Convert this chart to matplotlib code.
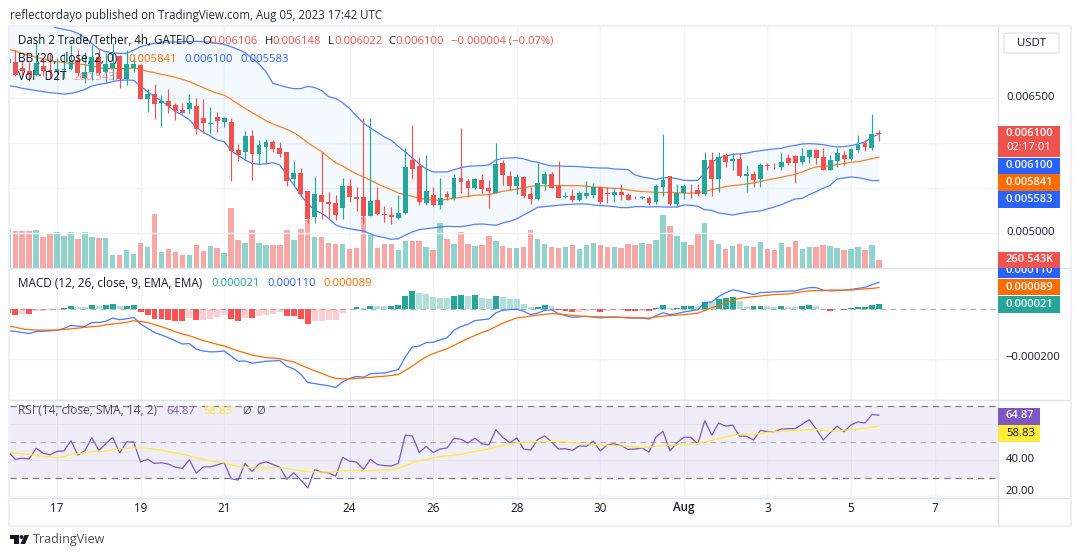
import numpy as np
import matplotlib
matplotlib.use('Agg')
import matplotlib.pyplot as plt
from matplotlib.patches import Rectangle, FancyBboxPatch, Polygon, Circle
from matplotlib.transforms import Affine2D

plt.rcParams['font.family'] = ['Open Sans', 'DejaVu Sans']

# candles, in units of 1e-6 USDT (first one is cut off by the left edge)
opens = [6890,
         6904,6830,6800,6756,6856,6811,6789,6811,6822,6922, 6719,6793,6959,6793,6830,6967,6711,6833,6867,6493,
         6541,6448,6463,6422,6367,6381,6411,6278,6215,6289, 6237,6233,5922,5904,6078,5881,5959,6011,5944,5900,
         5604,5667,5467,5174,5422,5344,5333,5281,5522,5400,
         5400,5193,5370,5215,5200,5170,5226,5815,5748,5337, 5422,5315,5437,5389,5611,5581,5504,5593,5504,5448,
         5778,5637,5526,5626,5437,5378,5548,5659,5522,5396, 5415,5367,5415,5426,5511,5444,5426,5459,5422,5393,
         5385,5393,5348,5515,5630,5326,5444,5526,5481,5433,
         5815,5604,5870,5804,5826,5637,5659,5604,5759,5748, 5737,5837,5852,5793,5848,5926,5848,5704,5804,5870,
         5826,5926,6004,5948,6106]
highs = [6960,
         7033,6922,6904,7107,6941,7015,6941,6996,7089,7033, 7015,7089,7052,6996,7107,6978,7033,6941,6874,6596,
         6652,6533,6600,6448,6448,6541,6496,6489,6396,6341, 6293,6274,5989,6133,6144,6033,6044,6033,6015,5900,
         5800,5726,5467,5618,5900,5452,5422,5611,5600,5515,
         6278,6278,5511,5304,5289,5426,5944,6204,5844,5870, 5511,5611,5467,5659,6167,5600,5611,5659,5593,6000,
         5815,5693,5656,5637,5511,5778,5693,5681,5804,5456, 5489,5463,5578,5556,5515,5507,5500,5548,5444,5407,
         5415,5407,5544,6104,5637,5548,5541,5548,5548,5904,
         5904,5904,5889,5889,5889,5759,5693,5778,5781,5781, 5889,5881,5870,5948,5937,5937,5948,5870,5948,5915,
         5948,6093,6037,6326,6148]
lows = [6850,
        6744,6756,6693,6744,6744,6719,6700,6719,6811,6744, 6663,6700,6756,6663,6700,6615,6644,6793,6493,6348,
        6270,6193,6330,6256,6330,6337,6100,6115,6107,6119, 6181,5578,5800,5818,5589,5767,5767,5904,5848,5522,
        5533,5415,5115,5115,5152,5163,5144,5156,5341,5244,
        5104,5185,5204,5118,5104,5159,5207,5604,5307,5307, 5296,5270,5363,5370,5444,5396,5493,5444,5274,5444,
        5537,5481,5437,5389,5326,5363,5481,5500,5393,5393, 5341,5359,5389,5389,5326,5333,5341,5370,5370,5378,
        5378,5315,5319,5407,5307,5289,5381,5385,5407,5426,
        5407,5452,5737,5704,5626,5452,5507,5515,5704,5715, 5704,5759,5559,5759,5781,5770,5704,5704,5737,5759,
        5815,5904,5915,5926,6022]
closes = [6930,
          6756,6804,6756,6885,6800,6789,6819,6819,6922,6781, 6793,6952,6774,6874,6885,6711,6874,6878,6493,6541,
          6437,6467,6411,6359,6333,6441,6152,6222,6222,6248, 6278,5915,5867,6078,5874,5978,6011,5937,5881,5578,
          5667,5433,5152,5433,5348,5326,5200,5522,5400,5378,
          5193,5359,5215,5196,5181,5226,5733,5707,5341,5467, 5315,5393,5404,5615,5570,5504,5604,5493,5470,5770,
          5641,5526,5622,5415,5381,5556,5659,5504,5393,5415, 5370,5448,5448,5515,5348,5430,5459,5426,5370,5385,
          5400,5337,5526,5593,5326,5444,5526,5522,5437,5815,
          5604,5848,5793,5826,5633,5659,5593,5759,5741,5741, 5793,5781,5781,5859,5926,5837,5704,5815,5893,5826,
          5937,5981,5959,6104,6100]

# volume, thousands
volume = [1217,
          1165,1165,1165,1196,978,1102,1134,1009,1134,915, 1134,978,946,946,416,416,572,447,790,666,
          1695,510,603,510,416,416,728,541,697,634, 478,1882,884,790,1196,790,728,728,728,1196,
          884,1227,1508,978,978,790,759,759,603,634,
          1602,1040,634,759,759,572,853,853,853,666, 572,1414,915,759,1134,759,697,728,1009,853,
          697,634,634,666,1196,915,759,666,634,666, 728,603,728,790,728,666,666,634,759,728,
          790,759,884,1664,1321,1009,822,728,1071,1414,
          884,759,603,697,759,697,666,822,603,572, 790,666,853,603,666,666,728,697,634,572,
          603,666,572,728,260.5]

# Bollinger bands, 1e-6
bb_upper = [7375,
            7367,7359,7352,7337,7322,7304,7278,7263,7248,7219, 7170,7107,7044,7015,7004,6996,6996,7033,7070,7093,
            7107,7119,7122,7122,7126,7126,7130,7126,7119,7107, 7096,7070,7041,7004,6941,6878,6793,6663,6641,6619,
            6604,6604,6630,6615,6582,6515,6496,6448,6385,6300,
            6223,6167,6119,6067,6030,5963,5900,5834,5771,5711, 5678,5678,5678,5704,5726,5741,5745,5748,5756,5811,
            5830,5834,5837,5823,5800,5786,5763,5745,5745,5741, 5741,5737,5730,5726,5722,5722,5711,5708,5704,5645,
            5623,5611,5593,5615,5615,5604,5586,5582,5586,5667,
            5786,5834,5852,5874,5878,5886,5904,5915,5926,5934, 5941,5963,5974,5989,5993,5989,5982,5967,5956,5960,
            5971,5989,6011,6067,6100]
bb_basis = [7041,
            7022,6996,6974,6952,6933,6915,6904,6893,6885,6878, 6870,6856,6837,6826,6826,6830,6830,6833,6822,6796,
            6782,6763,6748,6730,6707,6682,6648,6615,6582,6552, 6533,6485,6433,6385,6337,6293,6248,6211,6181,6152,
            6115,6063,6004,5952,5904,5841,5781,5744,5700,5655,
            5623,5586,5548,5511,5482,5445,5423,5408,5385,5371, 5367,5363,5374,5385,5397,5408,5419,5423,5426,5445,
            5463,5474,5489,5500,5519,5523,5526,5526,5526,5526, 5526,5526,5519,5511,5508,5500,5497,5493,5478,5467,
            5460,5456,5452,5448,5452,5448,5445,5441,5448,5463,
            5482,5497,5515,5526,5534,5545,5556,5574,5589,5604, 5619,5637,5652,5678,5711,5734,5741,5748,5760,5771,
            5786,5793,5808,5826,5841]
bb_lower = [6637,
            6626,6607,6596,6582,6570,6559,6552,6544,6552,6570, 6596,6633,6652,6663,6682,6696,6700,6696,6633,6570,
            6515,6467,6411,6348,6311,6256,6174,6119,6078,6033, 6015,5915,5863,5811,5774,5763,5770,5781,5755,5644,
            5533,5422,5322,5255,5218,5163,5089,5063,5048,5033,
            5023,4989,4963,4948,4930,4937,4974,5011,5037,5048, 5056,5067,5074,5071,5071,5082,5097,5100,5093,5085,
            5111,5130,5156,5200,5241,5285,5293,5300,5308,5315, 5319,5323,5323,5311,5304,5300,5293,5282,5282,5293,
            5293,5289,5293,5289,5289,5289,5311,5308,5297,5259,
            5252,5222,5211,5200,5215,5230,5237,5245,5267,5289, 5315,5348,5378,5385,5426,5460,5497,5530,5600,5611,
            5623,5615,5600,5582,5583]

# MACD, 1e-6
macd_hist = [-16,
             -24,-18,-18,-8,-6,-4,-1,4,14,10, 10,18,14,20,22,14,15,18,-11,-22,
             -37,-37,-41,-45,-46,-35,-44,-43,-38,-32, -24,-38,-45,-35,-36,-27,-21,-17,-11,-28,
             -28,-39,-60,-49,-45,-42,-41,-14,-1,10,
             4,14,14,14,15,18,56,77,66,65, 52,48,48,56,58,56,57,48,44,56,
             52,41,41,24,9,10,18,14,-1,-8, -10,-9,-8,-3,-10,-6,-3,-2,-7,-7,
             -6,-7,4,18,6,7,14,15,14,31,
             31,44,48,49,35,12,14,15,14,10, 14,10,9,14,18,14,2,-6,1,-4,
             4,10,11,18,21]
macd_line = [-87,
             -89,-94,-98,-90,-89,-87,-84,-77,-65,-68, -69,-53,-53,-48,-35,-42,-38,-32,-59,-77,
             -94,-104,-115,-128,-141,-139,-162,-169,-173,-172, -169,-190,-211,-210,-219,-215,-211,-210,-208,-232,
             -242,-264,-298,-302,-307,-311,-318,-295,-281,-273,
             -276,-262,-260,-259,-252,-245,-194,-153,-149,-135, -134,-124,-115,-84,-70,-60,-45,-42,-39,-14,
             -3,0,1,-7,-21,-15,-4,-1,-17,-25, -32,-30,-28,-31,-34,-32,-31,-32,-35,-35,
             -35,-39,-25,-14,-21,-17,-10,-6,-1,28,
             31,53,68,80,75,68,61,69,70,72, 73,75,76,83,89,89,79,76,77,79,
             82,86,90,101,110]
macd_signal = [-68,
               -72,-79,-82,-84,-84,-84,-84,-82,-79,-76, -73,-70,-68,-63,-59,-56,-52,-46,-49,-53,
               -62,-70,-80,-91,-100,-107,-117,-127,-134,-142, -149,-159,-169,-177,-186,-191,-196,-198,-201,-208,
               -214,-227,-239,-250,-260,-272,-281,-283,-283,-281,
               -279,-277,-274,-272,-269,-265,-248,-231,-211,-193, -180,-170,-160,-146,-132,-118,-106,-94,-84,-70,
               -56,-45,-35,-31,-27,-23,-20,-17,-18,-21, -24,-27,-28,-30,-30,-31,-31,-32,-32,-34,
               -34,-35,-31,-27,-25,-23,-21,-18,-15,-4,
               7,17,28,37,45,49,52,55,58,61, 62,63,68,72,76,77,77,79,79,79,
               79,82,84,86,89]

# RSI
rsi = [44.6,
       40.4,41.0,40.6,46.5,43.8,42.9,44.8,45.0,50.7,42.7, 45.2,52.3,45.4,49.0,52.6,44.0,50.0,50.0,38.9,40.4,
       38.1,38.5,37.7,36.0,35.4,40.2,32.7,36.2,36.2,37.3, 38.5,29.6,28.9,38.1,33.7,37.9,39.0,37.5,36.0,29.3,
       32.9,28.9,24.5,34.6,33.3,32.9,31.0,41.5,39.4,38.9,
       34.8,40.4,37.5,36.9,36.7,38.1,53.8,53.4,44.2,47.5, 44.2,46.1,46.7,52.1,51.5,49.4,52.1,49.0,48.4,56.7,
       52.6,49.6,52.3,46.1,45.5,51.3,53.4,50.0,46.1,46.3, 45.4,47.8,47.6,50.5,45.0,48.4,49.0,48.0,45.9,46.1,
       46.7,44.4,52.8,55.9,45.0,49.6,52.6,52.6,49.0,61.8,
       53.8,60.5,58.8,59.4,53.2,53.2,51.1,56.5,55.7,55.7, 57.2,57.4,57.4,59.9,62.4,57.2,51.1,55.1,58.8,55.7,
       59.5,61.1,60.5,65.3,64.87]
rsi_ma = [44.2,
          43.8,43.4,43.1,42.5,42.1,41.7,41.3,41.7,43.1,43.4, 44.0,44.6,44.6,45.0,45.7,46.1,46.5,46.7,46.7,46.5,
          45.9,45.4,44.6,44.0,43.2,42.3,41.3,40.4,39.4,39.0, 38.5,37.3,36.4,36.0,35.6,35.6,35.6,35.8,35.6,35.4,
          34.8,34.0,33.5,33.5,33.3,33.3,33.5,34.0,34.2,34.2,
          34.0,34.0,34.2,34.4,34.8,35.4,36.9,38.6,39.6,40.2, 41.1,41.9,42.3,42.7,43.2,44.0,44.8,45.4,46.1,47.1,
          48.0,48.4,49.6,49.6,49.8,50.2,50.3,50.3,50.2,50.0, 49.6,49.2,49.0,48.6,48.4,48.2,48.0,47.8,47.5,47.3,
          46.9,47.1,47.6,48.0,48.2,48.4,48.8,48.8,49.2,50.2,
          50.7,51.9,52.8,53.6,54.0,54.2,54.4,54.7,55.3,55.7, 55.9,56.1,56.3,56.5,56.9,56.9,56.3,56.1,56.1,56.5,
          56.9,57.2,57.6,58.2,58.83]

# candle index of each date label
day_ticks = [6, 18, 30, 48, 60, 72, 84, 96, 108, 120, 132]
day_labels = ['17', '19', '21', '24', '26', '28', '30', 'Aug', '3', '5', '7']

GREEN, RED = '#26a69a', '#ef5350'
BLUE, ORANGE = '#2962ff', '#ff6d00'
PURPLE, YELLOW = '#7e57c2', '#ffeb3b'
GRID = '#f0f3fa'
LINE = '#e0e3eb'
TEXT = '#131722'
MUTED = '#787b86'

W, H = 1080, 557
fig = plt.figure(figsize=(W / 100, H / 100), dpi=100, facecolor='white')


def pane(top, bottom):
    ax = fig.add_axes([10 / W, 1 - bottom / H, 988 / W, (bottom - top) / H])
    ax.set_xlim(-0.75, 141.1)
    ax.set_xticks(day_ticks)
    ax.grid(True, color=GRID, lw=1)
    ax.set_axisbelow(True)
    ax.tick_params(length=0, labelbottom=False, labelleft=False)
    for s in ax.spines.values():
        s.set_visible(False)
    return ax


def put(x, y, s, color=TEXT, size=8.1, zorder=4, **kw):
    fig.text(x / W, 1 - y / H, s, color=color, fontsize=size, va='center', zorder=zorder, **kw)


def box(x0, y0, x1, y1, color, zorder=3):
    fig.add_artist(Rectangle((x0 / W, 1 - y1 / H), (x1 - x0) / W, (y1 - y0) / H, color=color,
                             lw=0, transform=fig.transFigure, zorder=zorder))


def rule(x0, y0, x1, y1, color=LINE, lw=1.0):
    fig.add_artist(plt.Line2D([x0 / W, x1 / W], [1 - y0 / H, 1 - y1 / H], color=color, lw=lw,
                              transform=fig.transFigure, zorder=2))


idx = np.arange(-1, len(closes) - 1)
o, h, l, c = [np.array(a) * 1e-6 for a in (opens, highs, lows, closes)]
up = c >= o
colors = np.where(up, GREEN, RED)

# volume sits behind the price panel
ax_v = pane(27, 268)
ax_v.set_ylim(0, 7519)
ax_v.set_yticks([])
ax_v.grid(False)
ax_v.bar(idx, volume, width=0.78, color=colors, alpha=0.5, lw=0)

ax = pane(27, 268)
ax.patch.set_alpha(0)
ax_v.set_zorder(0)
ax.set_zorder(1)
ax.grid(False)
ax.set_ylim(4.611e-3, 7.289e-3)
ax.set_yticks([0.0050, 0.0055, 0.0060, 0.0065])
for yy in ax.get_yticks():
    ax.axhline(yy, color=GRID, lw=1, zorder=0)
for xx in day_ticks:
    ax_v.axvline(xx, color=GRID, lw=1, zorder=0)

up_b, lo_b, mid_b = [np.array(a) * 1e-6 for a in (bb_upper, bb_lower, bb_basis)]
ax.fill_between(idx, lo_b, up_b, color='#2196f3', alpha=0.05, lw=0)
ax.plot(idx, up_b, color=BLUE, lw=0.9, alpha=0.8)
ax.plot(idx, lo_b, color=BLUE, lw=0.9, alpha=0.8)
ax.plot(idx, mid_b, color=ORANGE, lw=0.9, alpha=0.85)
ax.vlines(idx, l, h, colors=colors, lw=0.85, zorder=3)
ax.bar(idx, np.maximum(np.abs(c - o), 1.5e-6), bottom=np.minimum(o, c), width=0.7, color=colors, lw=0, zorder=4)

# MACD
ax2 = pane(269, 400)
ax2.set_ylim(-369, 165)
ax2.set_yticks([-200])
ax2.axhline(0, color=MUTED, lw=0.8, ls=(0, (5, 4)), alpha=0.6)
hist = np.array(macd_hist)
prev = np.r_[hist[0], hist[:-1]]
hist_colors = np.where(hist >= 0,
                       np.where(hist > prev, '#26a69a', '#b2dfdb'),
                       np.where(hist <= prev, '#ff5252', '#ffcdd2'))
ax2.bar(idx, hist, width=0.85, color=hist_colors, lw=0)
ax2.plot(idx, macd_line, color=BLUE, lw=0.9, alpha=0.85)
ax2.plot(idx, macd_signal, color=ORANGE, lw=0.9)

# RSI
ax3 = pane(400, 497.5)
ax3.set_ylim(19.2, 73.3)
ax3.set_yticks([20, 40, 60])
ax3.axhspan(30, 70, color=PURPLE, alpha=0.1, lw=0)
ax3.axhline(70, color=MUTED, lw=0.9, ls=(0, (5, 4)))
ax3.axhline(30, color=MUTED, lw=0.9, ls=(0, (5, 4)))
ax3.axhline(50, color=MUTED, lw=0.8, ls=(0, (5, 4)), alpha=0.55)
ax3.plot(idx, rsi, color=PURPLE, lw=0.9)
ax3.plot(idx, rsi_ma, color=YELLOW, lw=0.9)

# frame and pane rules
fig.add_artist(Rectangle((9 / W, 1 - 526 / H), 1062 / W, 500 / H, fc='none', ec='#eef0f5', lw=1.6,
                         transform=fig.transFigure, zorder=1))
rule(10, 268.5, 1070, 268.5)
rule(10, 400, 1070, 400)
rule(10, 498, 1070, 498)
rule(998, 27, 998, 525)

# time axis
for t, lab in zip(day_ticks, day_labels):
    put(ax.transData.transform((t, 0))[0], 508, lab, ha='center', size=8.4,
        fontweight='semibold' if lab == 'Aug' else 'normal')

# header
put(10, 15, 'reflectordayo published on TradingView.com, Aug 05, 2023 17:42 UTC', size=8.3, color='#2a2e39')

# legends
put(18, 41, 'Dash 2 Trade/Tether, 4h, GATEIO', size=8.3)
for x, s, col in [(202, 'O', TEXT), (209, '0.006106', RED), (265, 'H', TEXT), (272, '0.006148', RED),
                  (328, 'L', TEXT), (334, '0.006022', RED), (388, 'C', TEXT), (395, '0.006100', RED),
                  (451, '\u22120.000004 (\u22120.07%)', RED)]:
    put(x, 41, s, color=col)
put(18, 59, 'BB (20, close, 2, 0)', size=8.6)
put(128, 59, '0.005841', color=ORANGE)
put(184, 59, '0.006100', color=BLUE)
put(240, 59, '0.005583', color=BLUE)
put(18, 77, 'Vol \u00b7 D2T', size=8.6)
put(74, 77, '260.543K', color=RED, alpha=0.6)

put(18, 283.5, 'MACD (12, 26, close, 9, EMA, EMA)', size=8.5)
put(211, 283.5, '0.000021', color=GREEN)
put(267, 283.5, '0.000110', color=BLUE)
put(323, 283.5, '0.000089', color=ORANGE)

put(18, 411, 'RSI (14, close, SMA, 14, 2)', color='#50535e', size=8.6)
put(166, 411, '64.87', color=PURPLE)
put(203, 411, '58.83', color=YELLOW)
put(242, 411, '\u00d8', color='#50535e')
put(256, 411, '\u00d8', color='#50535e')

# right hand scale
fig.add_artist(FancyBboxPatch((1004 / W, 1 - 53 / H), 55 / W, 20 / H, boxstyle='round,pad=0,rounding_size=0.003',
                              fc='white', ec=LINE, lw=1, transform=fig.transFigure, zorder=3))
put(1031.5, 43, 'USDT', ha='center', size=8.2, zorder=5)

put(1006, 98, '0.006500')
put(1006, 233, '0.005000')
put(1005, 358, '\u22120.000200')
put(1006, 459, '40.00')
put(1006, 491, '20.00')

box(998, 126, 1060, 157, RED)
put(1006, 134, '0.006100', color='white', fontweight='semibold', size=7.9)
put(1006, 148, '02:17:01', color='white')
box(998, 157.5, 1060, 173.5, BLUE)
put(1006, 165.5, '0.006100', color='white', fontweight='semibold', size=7.9)
box(998, 174, 1060, 190.5, ORANGE)
put(1006, 182.5, '0.005841', color='white', fontweight='semibold', size=7.9)
box(998, 191, 1060, 207.5, BLUE)
put(1006, 199.5, '0.005583', color='white', fontweight='semibold', size=7.9)

box(998, 262, 1060, 278, BLUE)
put(1006, 270.5, '0.000110', color='white', fontweight='semibold', size=7.9)
box(998, 252, 1060, 268, RED, zorder=5)
put(1006, 260, '260.543K', color='white', fontweight='semibold', zorder=6, size=7.9)
box(998, 279, 1060, 295, ORANGE)
put(1006, 287, '0.000089', color='white', fontweight='semibold', size=7.9)
box(998, 296, 1060, 313, GREEN, zorder=3.5)
put(1006, 304.5, '0.000021', color='white', fontweight='semibold', zorder=5, size=7.9)

box(998, 408, 1040, 425, PURPLE)
put(1006, 416, '64.87', color='white', fontweight='semibold', size=7.9)
box(998, 425, 1040, 442, YELLOW)
put(1006, 433.5, '58.83', color=TEXT)

# TradingView logo
flip = Affine2D().scale(1, -1).translate(0, H)
for patch in [Polygon([(10, 535), (19, 535), (19, 544), (14, 544), (14, 539), (10, 539)]),
              Circle((21.5, 537), 1.9),
              Polygon([(24.5, 535), (29, 535), (25, 544), (20.5, 544)])]:
    patch.set_color('#131722')
    patch.set_linewidth(0)
    patch.set_transform(flip)
    fig.add_artist(patch)
put(33, 539, 'TradingView', size=9.0, color='#4a4e59')

fig.savefig('out.png', dpi=100)
